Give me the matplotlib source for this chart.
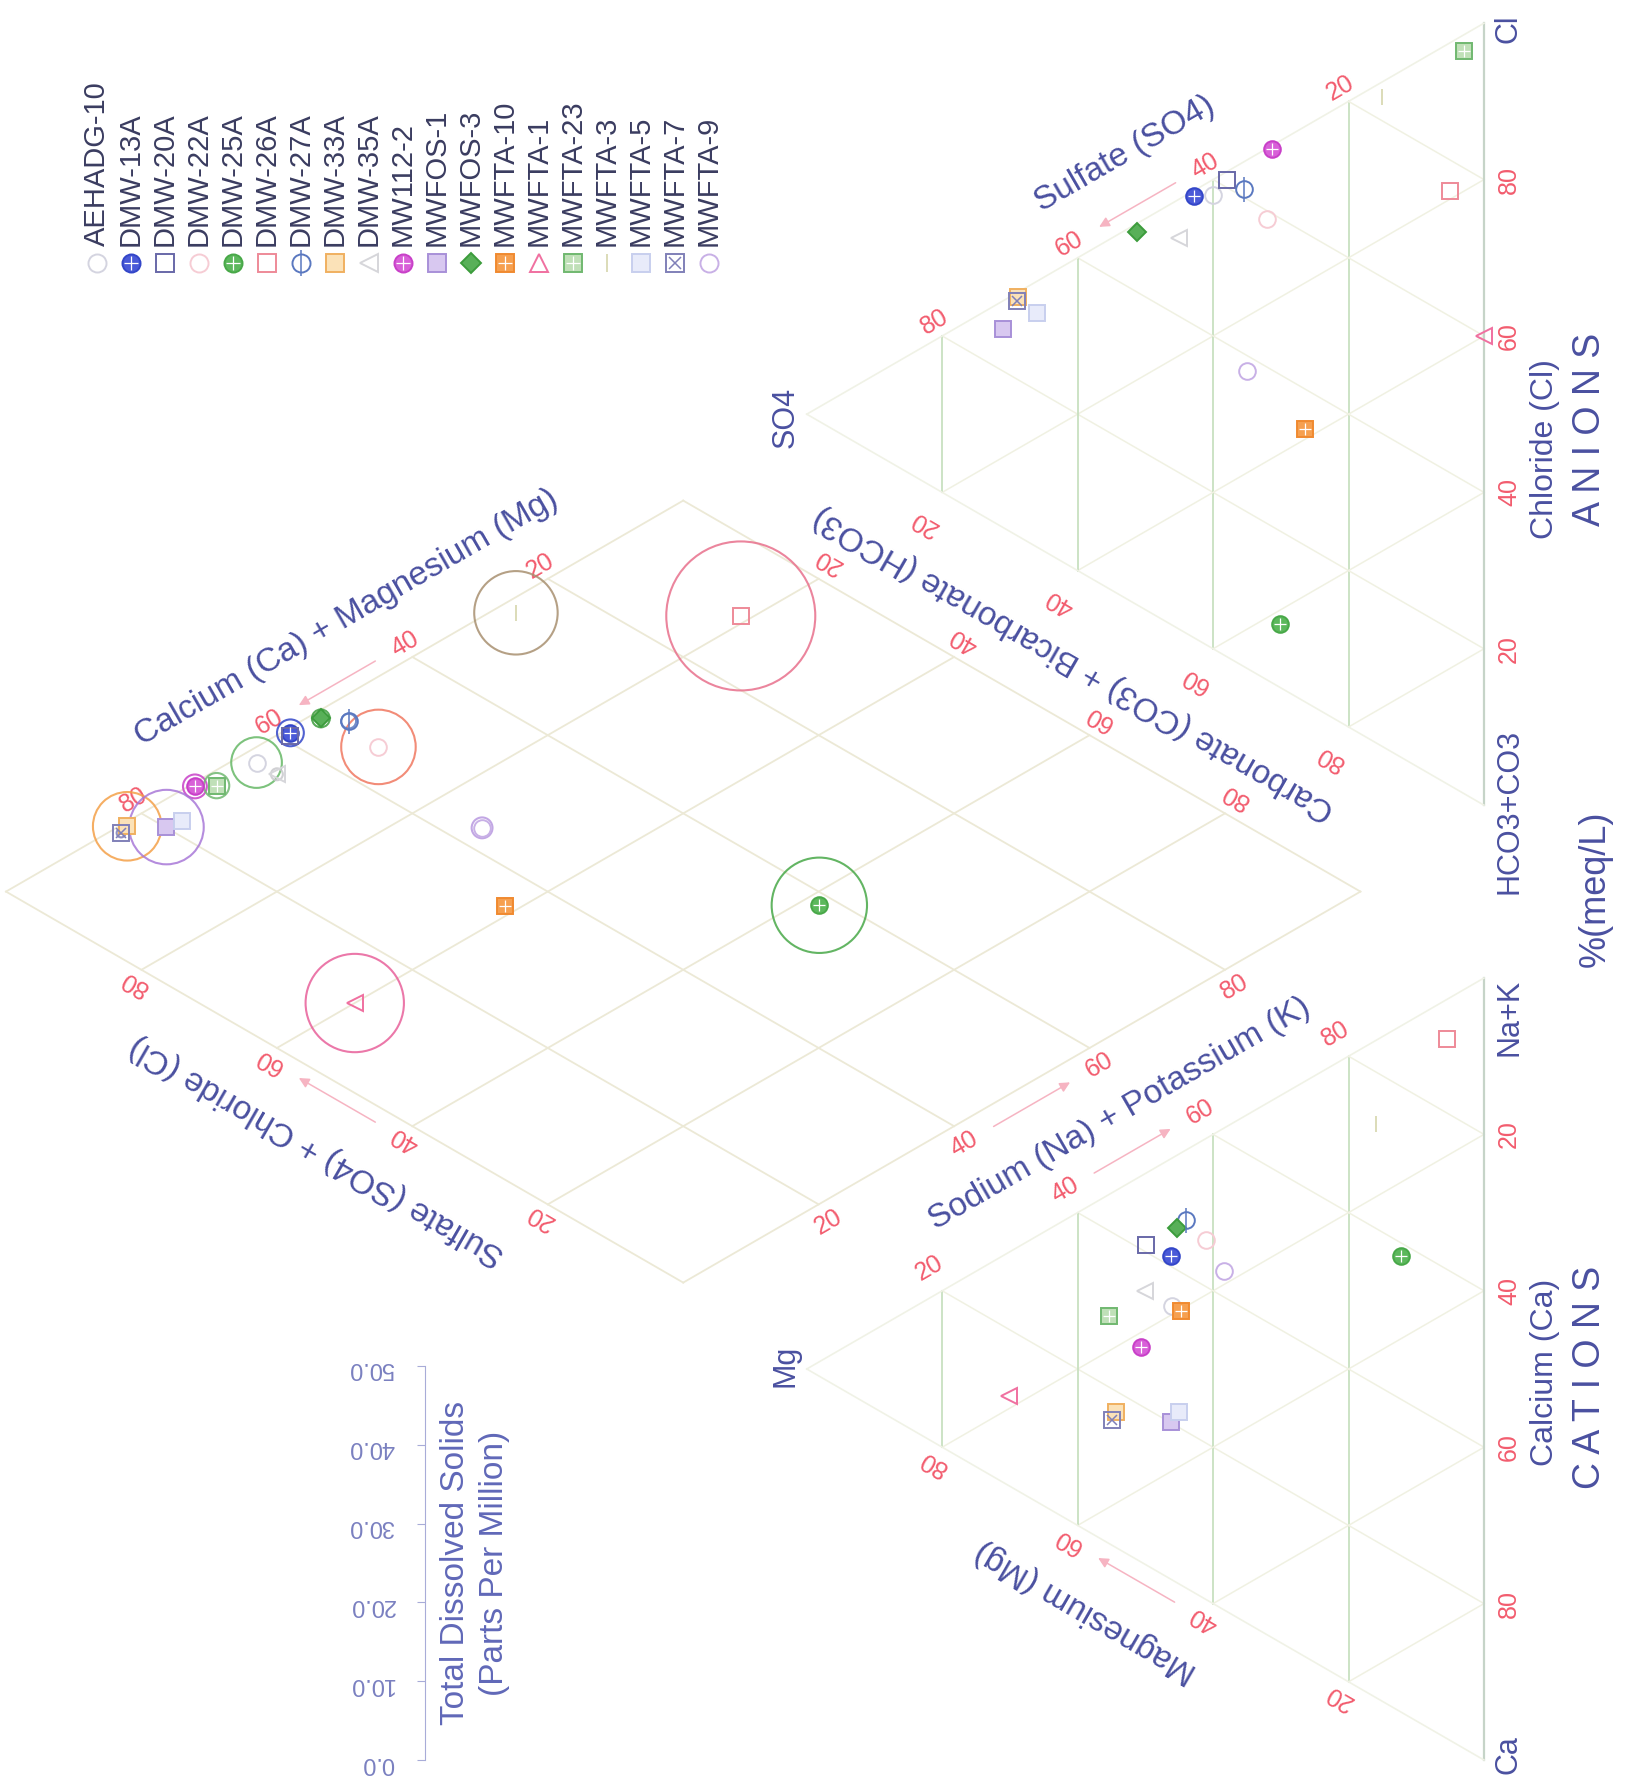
import numpy as np
import matplotlib
matplotlib.use("Agg")
import matplotlib.pyplot as plt

plt.rcParams['font.family'] = ['Liberation Sans', 'DejaVu Sans']

# ---------------- data ----------------
samples = ['AEHADG-10', 'DMW-13A', 'DMW-20A', 'DMW-22A', 'DMW-25A', 'DMW-26A',
           'DMW-27A', 'DMW-33A', 'DMW-35A', 'MW112-2', 'MWFOS-1', 'MWFOS-3',
           'MWFTA-10', 'MWFTA-1', 'MWFTA-23', 'MWFTA-3', 'MWFTA-5', 'MWFTA-7', 'MWFTA-9']
# cations, % meq/L
calcium          = [19.0, 12.5,  9.2, 13.0, 29.5,  5.1,  8.9, 28.3, 15.0, 21.9, 33.7,  9.3, 20.2, 18.3, 15.5, 10.7, 33.0, 29.0, 18.3]
magnesium        = [46.0, 46.2, 49.9, 41.0, 12.2,  5.4, 44.0, 54.4, 50.0, 50.7, 46.2, 45.3, 44.8, 70.2, 55.4, 16.0, 45.0, 55.0, 38.4]
sodium_potassium = [35.0, 41.3, 40.9, 46.0, 58.3, 89.5, 47.1, 17.3, 35.0, 27.4, 20.1, 45.4, 35.0, 11.5, 29.1, 73.3, 22.0, 16.0, 43.3]
# anions, % meq/L
chloride         = [58.0, 56.5, 61.0, 59.0,  8.1, 76.0, 61.0, 30.6, 50.0, 68.2, 25.4, 47.7, 34.8, 60.0, 95.0, 83.0, 30.0, 30.0, 38.0]
sulfate          = [40.0, 42.8, 38.0, 32.0, 30.1,  5.0, 35.5, 68.8, 45.0, 31.3, 71.0, 51.2, 26.5,  0.0,  3.0, 15.0, 66.0, 69.0, 35.0]
bicarbonate      = [ 2.0,  0.7,  1.0,  9.0, 61.8, 19.0,  3.5,  0.6,  5.0,  0.5,  3.6,  1.1, 38.7, 40.0,  2.0,  2.0,  4.0,  1.0, 27.0]
tds              = [17.0,  9.0,  3.0, 25.0, 32.0, 50.0,  5.0, 23.0,  4.0,  8.0, 25.0,  6.0,  5.0, 33.0,  8.5, 28.0,  3.0,  3.0,  7.0]
tds_ticks = [0, 10, 20, 30, 40, 50]
pct_ticks = [20, 40, 60, 80]

# ---------------- styles ----------------
styles = [
    dict(m='o', ec='#d4d4e0', fc='none'),
    dict(m='o', ec='#3346c8', fc='#4a5ad8', cross=True),
    dict(m='s', ec='#6868a8', fc='none'),
    dict(m='o', ec='#f6ccd4', fc='none'),
    dict(m='o', ec='#48a848', fc='#5cb85c', cross=True),
    dict(m='s', ec='#ee8a98', fc='none'),
    dict(m='o', ec='#5a78c0', fc='none', vline=True),
    dict(m='s', ec='#f0b060', fc='#fbe2b8'),
    dict(m='<', ec='#d6d6da', fc='none'),
    dict(m='o', ec='#c840c8', fc='#d860d8', cross=True),
    dict(m='s', ec='#a890d8', fc='#d8c8f0'),
    dict(m='D', ec='#3c9c3c', fc='#58b058', ms=9),
    dict(m='s', ec='#f08a30', fc='#f6a050', cross=True),
    dict(m='<', ec='#f070a0', fc='none', lm='^'),
    dict(m='s', ec='#70b870', fc='#c0e0b8', cross=True),
    dict(m='|', ec='#dcdcb8', fc='none'),
    dict(m='s', ec='#c8cfee', fc='#e8ebfa'),
    dict(m='s', ec='#8080b8', fc='none', x=True),
    dict(m='o', ec='#c8b0e6', fc='none'),
]
ring_colors = ['#66b866', '#3346c8', '#6868a8', '#f07860', '#48a848', '#e8708c', '#5a78c0',
               '#f4a048', '#c8c8cc', '#c840c8', '#a878d8', '#3c9c3c', '#f08a30', '#e8609a',
               '#70b870', '#a89070', '#b0b8e0', '#8080b8', '#b898e0']

TITLE_C = '#4a50a0'
TICK_C = '#f25c6e'
GRID_TOP = '#c8e0c0'
GRID_FAINT = '#f0f1e2'
DIAM_C = '#ece9d6'
ARROW_C = '#f6b4c2'

W, H = 1630, 1792
fig = plt.figure(figsize=(W / 100, H / 100), dpi=100)
ax = fig.add_axes([0, 0, 1, 1])
ax.set_xlim(0, W)
ax.set_ylim(H, 0)
ax.axis('off')

# geometry (standard Piper diagram, rotated 90 deg counter-clockwise)
X0, Y0, S, G, YB = 1484.0, 1760.0, 782.0, 0.221, 0.158
h = np.sqrt(3) / 2
BX = 1 + G / 2


def img(X, Y):
    X = np.asarray(X, float)
    Y = np.asarray(Y, float)
    return np.array([X0 - Y * S, Y0 - X * S])


def seg(A, B, **kw):
    ax.plot([A[0], B[0]], [A[1], B[1]], **kw)


def dpt(a, b):
    return img(BX + 0.5 * (b - a), YB + h * (a + b))


def tri_grid(off):
    for v in [0.2, 0.4, 0.6, 0.8]:
        seg(img(off + v / 2, v * h), img(off + 1 - v / 2, v * h), color=GRID_TOP, lw=1.3, zorder=1)
        seg(img(off + v, 0), img(off + v + (1 - v) / 2, (1 - v) * h), color=GRID_FAINT, lw=1.1, zorder=1)
        seg(img(off + 1 - v, 0), img(off + (1 - v) / 2, (1 - v) * h), color=GRID_FAINT, lw=1.1, zorder=1)
    seg(img(off, 0), img(off + 1, 0), color='#c6d4c8', lw=1.6, zorder=1)
    seg(img(off, 0), img(off + 0.5, h), color='#f0f2e6', lw=1.2, zorder=1)
    seg(img(off + 1, 0), img(off + 0.5, h), color='#f0f2e6', lw=1.2, zorder=1)


tri_grid(0.0)
tri_grid(1 + G)
for v in [0.0, 0.2, 0.4, 0.6, 0.8, 1.0]:
    seg(dpt(v, 0), dpt(v, 1), color=DIAM_C, lw=1.3, zorder=1)
    seg(dpt(0, v), dpt(1, v), color=DIAM_C, lw=1.3, zorder=1)

CaC, NaC, MgC = img(0, 0), img(1, 0), img(0.5, h)
HCc, ClC, SOc = img(1 + G, 0), img(2 + G, 0), img(1.5 + G, h)
T, L, R, Bv = dpt(1, 1), dpt(1, 0), dpt(0, 1), dpt(0, 0)
cen_cat = img(0.5, h / 3)
cen_an = img(1.5 + G, h / 3)
cen_d = dpt(0.5, 0.5)


def edge_pt(P, Q, t, d, C, a=0.0):
    P = np.asarray(P, float)
    Q = np.asarray(Q, float)
    pt = P + t * (Q - P)
    dv = (Q - P) / np.linalg.norm(Q - P)
    n = np.array([-dv[1], dv[0]])
    if np.dot(n, pt - np.asarray(C)) < 0:
        n = -n
    return pt + d * n + a * dv


def ttext(p, s, rot, size, color, **kw):
    ax.text(p[0], p[1], s, rotation=rot, rotation_mode='anchor', ha='center', va='center',
            fontsize=size, color=color, **kw)


# ---- tick labels ----
for v in pct_ticks:
    f = v / 100
    ttext(img(1 - f, 0) + [25, 0], str(v), 90, 18, TICK_C)                  # Ca on base
    ttext(img(1 + G + f, 0) + [25, 0], str(v), 90, 18, TICK_C)              # Cl on base
    ttext(edge_pt(CaC, MgC, f, 18, cen_cat), str(v), 150, 18, TICK_C)      # Mg
    ttext(edge_pt(MgC, NaC, f, 26, cen_cat), str(v), 30, 18, TICK_C)       # Na+K
    ttext(edge_pt(SOc, HCc, f, 36, cen_an), str(v), 150, 18, TICK_C)       # HCO3
    ttext(edge_pt(ClC, SOc, f, 16, cen_an), str(v), 30, 18, TICK_C)        # SO4
    ttext(edge_pt(R, T, f, 15, cen_d), str(v), 30, 18, TICK_C)             # Ca+Mg
    ttext(edge_pt(L, T, f, 15, cen_d), str(v), 150, 18, TICK_C)            # SO4+Cl
    ttext(edge_pt(R, Bv, f, 20, cen_d), str(v), 150, 18, TICK_C)           # HCO3+CO3
    ttext(edge_pt(L, Bv, f, 20, cen_d), str(v), 30, 18, TICK_C)            # Na+K

# ---- axis direction arrows ----
for (P, Q, d, C) in [(R, T, 15, cen_d), (L, T, 15, cen_d), (L, Bv, 20, cen_d),
                     (MgC, NaC, 26, cen_cat), (CaC, MgC, 18, cen_cat), (ClC, SOc, 16, cen_an)]:
    p0 = edge_pt(P, Q, 0.44, d, C)
    p1 = edge_pt(P, Q, 0.56, d, C)
    ax.annotate('', xy=p1, xytext=p0,
                arrowprops=dict(arrowstyle='-|>', color=ARROW_C, lw=1.1, mutation_scale=15))

# ---- edge titles ----
ttext(edge_pt(T, R, 0.5, 67, cen_d, 41), 'Calcium (Ca) + Magnesium (Mg)', 30, 24, TITLE_C)
ttext(edge_pt(T, L, 0.5, 69, cen_d, 8), 'Sulfate (SO4) + Chloride (Cl)', 150, 24, TITLE_C)
ttext(edge_pt(R, Bv, 0.5, 55, cen_d, 29), 'Carbonate (CO3) + Bicarbonate (HCO3)', 150, 24, TITLE_C)
ttext(edge_pt(L, Bv, 0.5, 72, cen_d, 71), 'Sodium (Na) + Potassium (K)', 30, 24, TITLE_C)
ttext(edge_pt(CaC, MgC, 0.5, 71, cen_cat, 28), 'Magnesium (Mg)', 150, 24, TITLE_C)
ttext(edge_pt(ClC, SOc, 0.5, 66, cen_an, -15), 'Sulfate (SO4)', 30, 24, TITLE_C)

# ---- corner labels ----
ttext(CaC + [25, -5], 'Ca', 90, 22, TITLE_C)
ttext(NaC + [25, 39], 'Na+K', 90, 22, TITLE_C)
ttext(HCc + [25, 6], 'HCO3+CO3', 90, 22, TITLE_C)
ttext(ClC + [25, 6], 'Cl', 90, 22, TITLE_C)
ttext(MgC + [-21, -3], 'Mg', 90, 22, TITLE_C)
ttext(SOc + [-21, 3], 'SO4', 90, 22, TITLE_C)

ttext([1545, 1372], 'Calcium (Ca)', 90, 23, TITLE_C)
ttext([1590, 1377], 'C A T I O N S', 90, 27, TITLE_C)
ttext([1545, 449], 'Chloride (Cl)', 90, 23, TITLE_C)
ttext([1590, 429], 'A N I O N S', 90, 27, TITLE_C)
ttext([1595, 889], '%(meq/L)', 90, 26, TITLE_C)

# ---- data points ----
ca = np.array(calcium) / 100
mg = np.array(magnesium) / 100
na = np.array(sodium_potassium) / 100
cl = np.array(chloride) / 100
so = np.array(sulfate) / 100
hc = np.array(bicarbonate) / 100

cat_xy = img(na + mg / 2, mg * h)
an_xy = img(1 + G + cl + so / 2, so * h)
dia_xy = dpt(ca + mg, so + cl)

for i, st in enumerate(styles):
    MS = st.get('ms', 12)
    xs = [cat_xy[0][i], an_xy[0][i], dia_xy[0][i]]
    ys = [cat_xy[1][i], an_xy[1][i], dia_xy[1][i]]
    r_pt = 1.49 * tds[i] * 0.72
    ax.scatter([dia_xy[0][i]], [dia_xy[1][i]], s=(2 * r_pt) ** 2, facecolors='none',
               edgecolors=ring_colors[i], linewidths=1.5, alpha=0.85, zorder=3)
    ax.plot(xs, ys, ls='none', marker=st['m'], ms=MS, mfc=st['fc'], mec=st['ec'], mew=1.4, zorder=5)
    if st.get('cross'):
        ax.plot(xs, ys, ls='none', marker='+', ms=MS * 0.75, mec='white', mew=0.9, zorder=6)
    if st.get('x'):
        ax.plot(xs, ys, ls='none', marker='x', ms=MS * 0.6, mec=st['ec'], mew=1.1, zorder=6)
    if st.get('vline'):
        ax.plot(xs, ys, ls='none', marker='|', ms=MS * 1.5, mec=st['ec'], mew=1.1, zorder=6)

# ---- legend (rotated) ----
LX0, LDX, LMY, LTY = 97, 34, 263, 246
for i, (name, st) in enumerate(zip(samples, styles)):
    x = LX0 + i * LDX
    lms = st.get('ms', 12) + 1
    ax.plot([x], [LMY], ls='none', marker=st.get('lm', st['m']), ms=lms, mfc=st['fc'],
            mec=st['ec'], mew=1.4, zorder=5)
    if st.get('cross'):
        ax.plot([x], [LMY], ls='none', marker='+', ms=10, mec='white', mew=0.9, zorder=6)
    if st.get('x'):
        ax.plot([x], [LMY], ls='none', marker='x', ms=8, mec=st['ec'], mew=1.1, zorder=6)
    if st.get('vline'):
        ax.plot([x], [LMY], ls='none', marker='|', ms=19, mec=st['ec'], mew=1.1, zorder=6)
    ax.text(x, LTY, name, rotation=90, rotation_mode='anchor', ha='left', va='center',
            fontsize=21, color='#3a3c60')

# ---- TDS scale ----
tax = fig.add_axes([425 / W, 1 - 1760 / H, 0.0005, (1760 - 1366) / H])
tax.set_ylim(tds_ticks[0], tds_ticks[-1])
tax.set_yticks(tds_ticks)
tax.set_yticklabels([f'{v:.1f}' for v in tds_ticks], rotation=180, fontsize=17, color='#7a80c0')
tax.tick_params(axis='y', length=6, color='#a8acd8', pad=16)
tax.set_xticks([])
for k in ['top', 'right', 'bottom']:
    tax.spines[k].set_visible(False)
tax.spines['left'].set_color('#a8acd8')
tax.patch.set_visible(False)
ttext([455, 1563], 'Total Dissolved Solids', 90, 24, '#6068b8')
ttext([494, 1563], '(Parts Per Million)', 90, 24, '#6068b8')

fig.savefig('out.png', dpi=100, facecolor='white')
